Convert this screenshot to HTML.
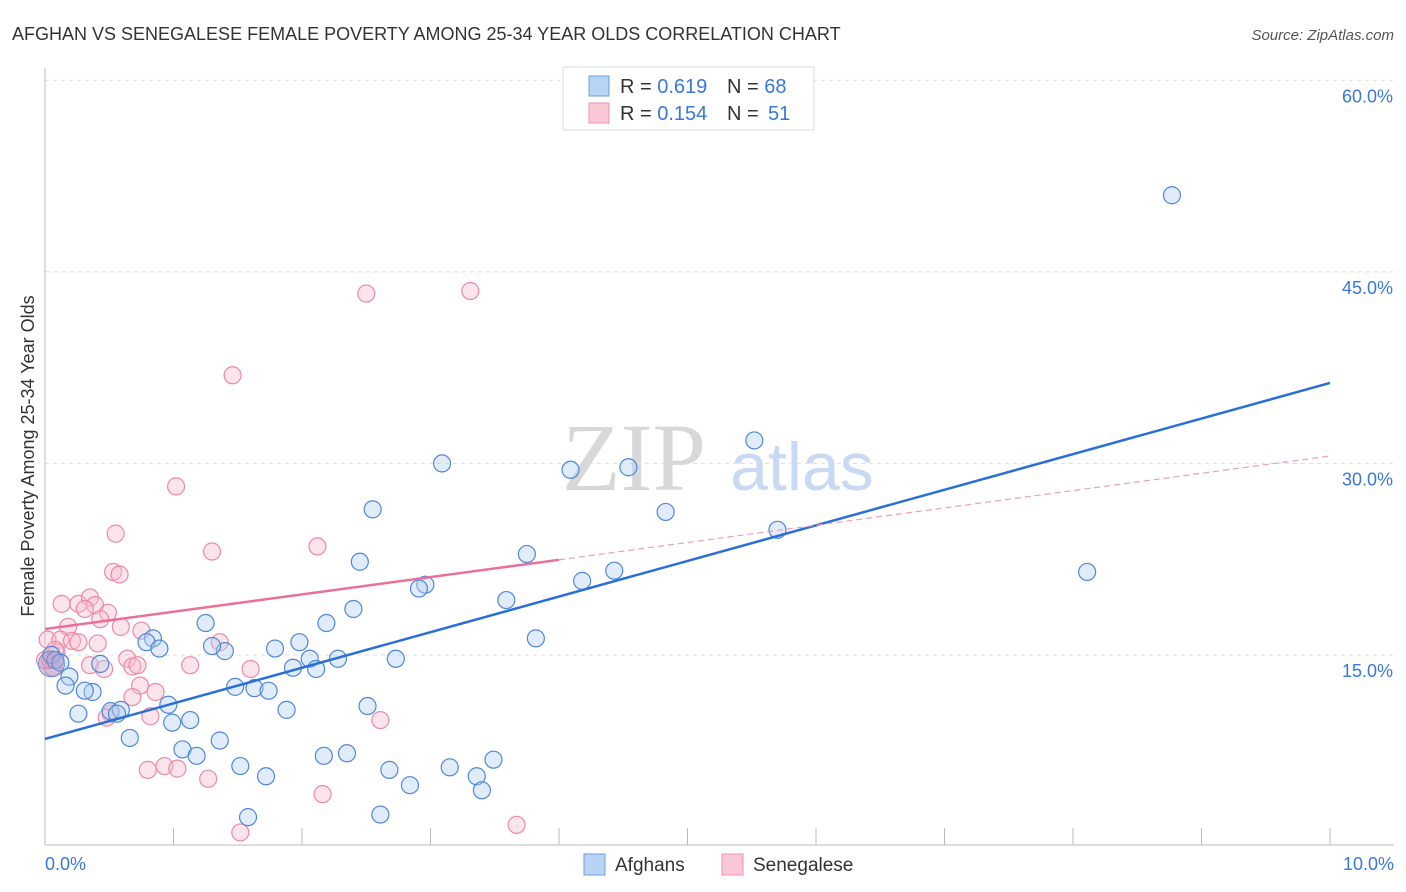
<!DOCTYPE html>
<html><head><meta charset="utf-8"><style>
body{margin:0;background:#fff;font-family:"Liberation Sans",sans-serif;}
svg{display:block}
</style></head><body>
<svg width="1406" height="892" id="chart">
<text x="12" y="40" font-size="18" fill="#333">AFGHAN VS SENEGALESE FEMALE POVERTY AMONG 25-34 YEAR OLDS CORRELATION CHART</text>
<text x="1394" y="40" font-size="15" fill="#555" font-style="italic" text-anchor="end">Source: ZipAtlas.com</text>
<g>
<text x="634" y="490" font-size="96" fill="#d8d8d8" font-family="Liberation Serif,serif" text-anchor="middle">ZIP</text>
<text x="802" y="490" font-size="68" fill="#c8daf3" text-anchor="middle">atlas</text>
</g>
<g id="grid"></g>
<g id="axes"></g>
<g id="pts"></g>
<g id="lines"></g>
<text transform="translate(34,456) rotate(-90)" font-size="18" fill="#333" text-anchor="middle">Female Poverty Among 25-34 Year Olds</text>
<g>
<rect x="563" y="67" width="251" height="63" fill="#fff" stroke="#ddd"/>
<rect x="589" y="76" width="20" height="20" fill="#b9d3f5" stroke="#6d9ee0"/>
<rect x="589" y="103" width="20" height="20" fill="#f9c7d6" stroke="#ec93b0"/>
<text x="620" y="93" font-size="20" fill="#333">R = <tspan fill="#3a78d8">0.619</tspan></text>
<text x="727" y="93" font-size="20" fill="#333">N = <tspan fill="#3a78d8">68</tspan></text>
<text x="620" y="120" font-size="20" fill="#333">R = <tspan fill="#3a78d8">0.154</tspan></text>
<text x="727" y="120" font-size="20" fill="#333">N = <tspan x="768" fill="#3a78d8">51</tspan></text>
</g>
<g>
<rect x="584" y="854" width="21" height="21" fill="#b9d3f5" stroke="#6d9ee0"/>
<text x="615" y="871" font-size="19" fill="#333">Afghans</text>
<rect x="722" y="854" width="21" height="21" fill="#f9c7d6" stroke="#ec93b0"/>
<text x="753" y="871" font-size="19" fill="#333">Senegalese</text>
</g>
</svg>
<script>
const yTicks=[15,30,45,60];
const yTickLabels=["15.0%","30.0%","45.0%","60.0%"];
const xTicks=[0,1,2,3,4,5,6,7,8,9,10];
const afghanX=[8.77,5.52,3.09,4.54,4.09,2.55,4.83,5.70,3.75,2.45,8.11,4.43,4.18,2.96,2.91,3.59,2.40,2.19,1.25,1.98,3.82,0.84,1.40,1.30,2.06,0.79,0.89,1.79,2.73,2.28,1.93,2.11,0.05,0.08,0.12,0.19,0.43,0.16,0.37,0.31,1.48,1.63,1.74,2.51,1.88,0.96,0.26,0.51,0.59,0.56,1.13,0.99,0.66,1.36,1.07,1.18,2.17,2.35,3.15,3.49,1.52,2.68,1.72,3.36,2.84,3.40,1.58,2.61];
const afghanY=[51.0,31.8,30.0,29.7,29.5,26.4,26.2,24.8,22.9,22.3,21.5,21.6,20.8,20.5,20.2,19.3,18.6,17.5,17.5,16.0,16.3,16.3,15.3,15.7,14.7,16.0,15.5,15.5,14.7,14.7,14.0,13.9,15.0,14.6,14.4,13.3,14.3,12.6,12.1,12.2,12.5,12.4,12.2,11.0,10.7,11.1,10.4,10.6,10.7,10.4,9.9,9.7,8.5,8.3,7.6,7.1,7.1,7.3,6.2,6.8,6.3,6.0,5.5,5.5,4.8,4.4,2.3,2.5];
const senegalX=[3.31,2.50,1.46,1.02,0.55,2.12,1.30,0.53,0.58,0.13,0.26,0.35,0.39,0.31,0.49,0.43,0.18,0.59,0.75,0.02,0.12,0.21,0.26,0.09,0.41,1.36,0.64,0.68,0.72,1.13,1.60,0.04,0.06,0.35,0.46,0.74,0.86,0.68,0.51,0.48,0.82,2.61,0.80,0.93,1.03,1.27,2.16,3.67,1.52,0.08,0.0];
const senegalY=[43.5,43.3,36.9,28.2,24.5,23.5,23.1,21.5,21.3,19.0,19.0,19.5,18.9,18.6,18.3,17.8,17.2,17.2,16.9,16.2,16.2,16.1,16.0,15.2,15.9,16.0,14.7,14.1,14.2,14.2,13.9,14.6,14.0,14.2,13.9,12.6,12.1,11.7,10.4,10.1,10.2,9.9,6.0,6.3,6.1,5.3,4.1,1.7,1.1,15.4,14.6];
const trendAfghan=[8.42,36.3];
const trendSenegal=[17.03,30.58];
const xs=v=>45+v*128.5, ys=v=>846.5-v*12.77;
const NS="http://www.w3.org/2000/svg";
function mk(t,a,p){const e=document.createElementNS(NS,t);for(const k in a)e.setAttribute(k,a[k]);p.appendChild(e);return e;}
const grid=document.getElementById('grid'),axes=document.getElementById('axes'),pts=document.getElementById('pts'),lines=document.getElementById('lines');
yTicks.forEach((v,i)=>{
 const g=mk('line',{x1:45,x2:1394,y1:ys(v),y2:ys(v),stroke:'#ddd','stroke-dasharray':'4,4'},grid);
 
 
 const t=mk('text',{x:1393,y:ys(v)+22,'font-size':18,fill:'#3a78d8','text-anchor':'end'},axes);
 t.textContent=yTickLabels[i];
 
 
});
const ya=mk('line',{x1:45,x2:45,y1:68,y2:845,stroke:'#bbb'},axes);


const xa=mk('line',{x1:45,x2:1394,y1:845,y2:845,stroke:'#bbb'},axes);


xTicks.forEach(v=>{
 const l=mk('line',{x1:xs(v),x2:xs(v),y1:828,y2:845,stroke:'#bbb'},axes);
 
 
});
[[0,'0.0%','start',45],[10,'10.0%','end',1394]].forEach(d=>{
 const t=mk('text',{x:d[3],y:870,'font-size':18,fill:'#3a78d8','text-anchor':d[2]},axes);
 t.textContent=d[1];
 
 
});
function dots(X,Y,fill,stroke,name){X.forEach((x,i)=>{
 const c=mk('circle',{cx:xs(x),cy:ys(Y[i]),r:8.5,fill:fill,'fill-opacity':0.4,stroke:stroke,'stroke-width':1.2},pts);
 
 
});}
dots(senegalX,senegalY,'#f7bccd','#e98aa9','senegalese-point');
dots(afghanX,afghanY,'#b5cff2','#4f87d8','afghan-point');
const big=mk('circle',{cx:xs(0.05),cy:ys(14.3),r:13,fill:'#a88fc0','fill-opacity':0.45,stroke:'#6d8fd6'},pts);


const lb=mk('line',{x1:xs(0),y1:ys(trendAfghan[0]),x2:xs(10),y2:ys(trendAfghan[1]),stroke:'#2a6fd6','stroke-width':2.5},lines);


const sAt=v=>trendSenegal[0]+(trendSenegal[1]-trendSenegal[0])*v/10;
const lp=mk('line',{x1:xs(0),y1:ys(sAt(0)),x2:xs(4),y2:ys(sAt(4)),stroke:'#e8709a','stroke-width':2.5},lines);


const lpd=mk('line',{x1:xs(4),y1:ys(sAt(4)),x2:xs(10),y2:ys(sAt(10)),stroke:'#e8a0b8','stroke-width':1.2,'stroke-dasharray':'6,4'},lines);


</script>
</body></html>
